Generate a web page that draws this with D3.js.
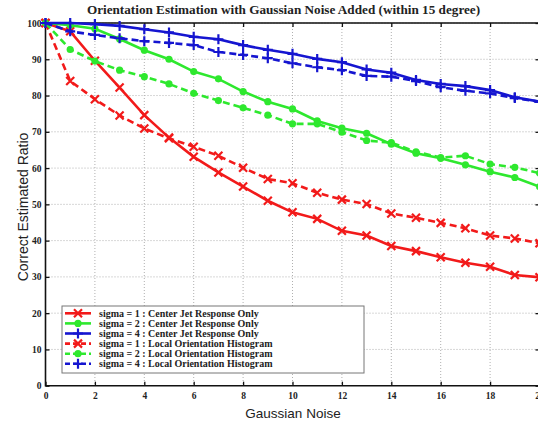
<!DOCTYPE html>
<html>
<head>
<meta charset="utf-8">
<title></title>
<style>
	body { margin: 0; background: #fff; }
	svg { display: block; }
</style>
</head>
<body>
	<svg id="container" width="538" height="425"></svg>
</body>
<script src="https://cdnjs.cloudflare.com/ajax/libs/d3/7.8.5/d3.min.js"></script>
<script>
	// values
	let noise = [0, 1, 2, 3, 4, 5, 6, 7, 8, 9, 10, 11, 12, 13, 14, 15, 16, 17, 18, 19, 20]
	let redSolid = [100, 97.7, 89.6, 82.2, 74.6, 68.4, 63.1, 58.8, 54.9, 51.0, 47.8, 46.0, 42.7, 41.4, 38.5, 37.1, 35.4, 33.9, 32.8, 30.5, 29.9]
	let greenSolid = [100, 99.4, 98.4, 95.6, 92.5, 90.0, 86.6, 84.6, 81.1, 78.3, 76.3, 73.0, 71.0, 69.6, 66.6, 64.1, 62.7, 60.9, 59.0, 57.4, 54.9]
	let blueSolid = [100, 100, 99.7, 99.2, 98.3, 97.4, 96.2, 95.5, 93.9, 92.6, 91.5, 90.1, 89.2, 87.2, 86.3, 84.3, 83.2, 82.6, 81.5, 79.5, 78.3]
	let redDashed = [100, 84.0, 79.0, 74.5, 70.9, 68.2, 65.9, 63.4, 60.1, 57.0, 55.8, 53.2, 51.3, 50.1, 47.5, 46.3, 44.9, 43.4, 41.4, 40.6, 39.3]
	let greenDashed = [100, 92.7, 89.5, 87.0, 85.2, 83.2, 80.6, 78.6, 76.6, 74.6, 72.2, 72.2, 69.9, 67.6, 67.0, 64.5, 62.9, 63.4, 61.1, 60.2, 58.6]
	let blueDashed = [100, 97.7, 96.7, 95.8, 95.0, 94.5, 93.9, 92.0, 91.2, 90.3, 88.9, 87.8, 87.0, 85.4, 85.2, 84.0, 82.3, 81.3, 80.6, 79.3, 78.3]
	let seriesLabels = [
		"sigma = 1 : Center Jet Response Only",
		"sigma = 2 : Center Jet Response Only",
		"sigma = 4 : Center Jet Response Only",
		"sigma = 1 : Local Orientation Histogram",
		"sigma = 2 : Local Orientation Histogram",
		"sigma = 4 : Local Orientation Histogram"
	]
	let xTicks = [0, 2, 4, 6, 8, 10, 12, 14, 16, 18, 20]
	let yTicks = [0, 10, 20, 30, 40, 50, 60, 70, 80, 90, 100]

	let red = "#f21a1a", green = "#2ee82e", blue = "#1515d0"
	let series = [
		{ values: redSolid, color: red, dash: null, marker: "x" },
		{ values: greenSolid, color: green, dash: null, marker: "o" },
		{ values: blueSolid, color: blue, dash: null, marker: "+" },
		{ values: redDashed, color: red, dash: "7,4", marker: "x" },
		{ values: greenDashed, color: green, dash: "7,4", marker: "o" },
		{ values: blueDashed, color: blue, dash: "7,4", marker: "+" }
	]

	let svg = d3.select("#container")
	let plotLeft = 45.5, plotRight = 539.5, plotTop = 23, plotBottom = 385.7
	let serif = "'Liberation Serif', 'Times New Roman', serif"
	let sans = "'Liberation Sans', Arial, sans-serif"

	let x = d3.scaleLinear().domain([0, 20]).range([plotLeft, plotRight])
	let y = d3.scaleLinear().domain([0, 100]).range([plotBottom, plotTop])

	// dotted grid
	let grid = svg.append("g")
	grid.selectAll(".gx").data(xTicks.slice(1)).enter().append("line")
		.attr("x1", d => x(d)).attr("x2", d => x(d))
		.attr("y1", plotTop).attr("y2", plotBottom)
		.attr("stroke", "#b0b0b0").attr("stroke-width", 1).attr("stroke-dasharray", "1,2")
	grid.selectAll(".gy").data(yTicks.slice(1)).enter().append("line")
		.attr("x1", plotLeft).attr("x2", plotRight)
		.attr("y1", d => y(d)).attr("y2", d => y(d))
		.attr("stroke", "#b0b0b0").attr("stroke-width", 1).attr("stroke-dasharray", "1,2")

	// axes: ticks point inwards, on all four sides
	function styleAxis(g) {
		g.select(".domain").remove()
		g.selectAll(".tick line").attr("stroke", "#111").attr("stroke-width", 1.3)
		g.selectAll(".tick text").attr("fill", "#222")
			.style("font-family", serif).style("font-weight", "bold").style("font-size", "9.5px")
	}
	svg.append("g").attr("transform", `translate(0,${plotBottom})`)
		.call(d3.axisBottom(x).tickValues(xTicks).tickSizeInner(-4).tickSizeOuter(0).tickPadding(7))
		.call(styleAxis)
	svg.append("g").attr("transform", `translate(0,${plotTop})`)
		.call(d3.axisTop(x).tickValues(xTicks).tickSizeInner(-4).tickSizeOuter(0).tickFormat(""))
		.call(styleAxis)
	svg.append("g").attr("transform", `translate(${plotLeft},0)`)
		.call(d3.axisLeft(y).tickValues(yTicks).tickSizeInner(-4).tickSizeOuter(0).tickPadding(6))
		.call(styleAxis)
		.selectAll(".tick text").attr("dx", "0.2em")
	svg.append("g").attr("transform", `translate(${plotRight},0)`)
		.call(d3.axisRight(y).tickValues(yTicks).tickSizeInner(-4).tickSizeOuter(0).tickFormat(""))
		.call(styleAxis)

	// box
	svg.append("path")
		.attr("d", `M${plotRight},${plotTop}H${plotLeft}V${plotBottom}H${plotRight}`)
		.attr("fill", "none").attr("stroke", "#111").attr("stroke-width", 1.6)

	function drawMarker(g, cx, cy, s) {
		if (s.marker == "x") {
			let r = 4
			g.append("path").attr("d", `M${cx - r},${cy - r}L${cx + r},${cy + r}M${cx - r},${cy + r}L${cx + r},${cy - r}`)
				.attr("stroke", s.color).attr("stroke-width", 2.2).attr("fill", "none")
		} else if (s.marker == "o") {
			g.append("circle").attr("cx", cx).attr("cy", cy).attr("r", 3.6).attr("fill", s.color)
		} else {
			let r = 5
			g.append("path").attr("d", `M${cx - r},${cy}L${cx + r},${cy}M${cx},${cy - r}L${cx},${cy + r}`)
				.attr("stroke", s.color).attr("stroke-width", 2.2).attr("fill", "none")
		}
	}

	let line = d3.line().x((d, i) => x(noise[i])).y(d => y(d))
	series.forEach(s => {
		let g = svg.append("g")
		g.append("path").datum(s.values)
			.attr("d", line)
			.attr("fill", "none").attr("stroke", s.color).attr("stroke-width", 2.6)
			.attr("stroke-dasharray", s.dash)
		s.values.forEach((v, i) => drawMarker(g, x(noise[i]), y(v), s))
	})

	// legend
	let legend = svg.append("g")
	legend.append("rect").attr("x", 62).attr("y", 306).attr("width", 302).attr("height", 67)
		.attr("fill", "#fff").attr("stroke", "#777").attr("stroke-width", 1)
	series.forEach((s, i) => {
		let ly = 313.3 + i * 10.1
		legend.append("line").attr("x1", 65).attr("x2", 91).attr("y1", ly).attr("y2", ly)
			.attr("stroke", s.color).attr("stroke-width", 2.6).attr("stroke-dasharray", s.dash ? "5,3" : null)
		drawMarker(legend, 78, ly, s)
		legend.append("text").attr("x", 99).attr("y", ly + 3.4).text(seriesLabels[i])
			.attr("fill", "#222").style("font-family", serif).style("font-weight", "bold").style("font-size", "10px")
	})

	// titles
	svg.append("text").attr("x", 283.5).attr("y", 14).attr("text-anchor", "middle")
		.text("Orientation Estimation with Gaussian Noise Added (within 15 degree)")
		.attr("fill", "#222").style("font-family", serif).style("font-weight", "bold").style("font-size", "13.2px")
	svg.append("text").attr("x", 293).attr("y", 418).attr("text-anchor", "middle")
		.text("Gaussian Noise")
		.attr("fill", "#222").style("font-family", sans).style("font-size", "13.5px")
	svg.append("text").attr("transform", "translate(28,207) rotate(-90)").attr("text-anchor", "middle")
		.text("Correct Estimated Ratio")
		.attr("fill", "#222").style("font-family", sans).style("font-size", "14px")
</script>
</html>
